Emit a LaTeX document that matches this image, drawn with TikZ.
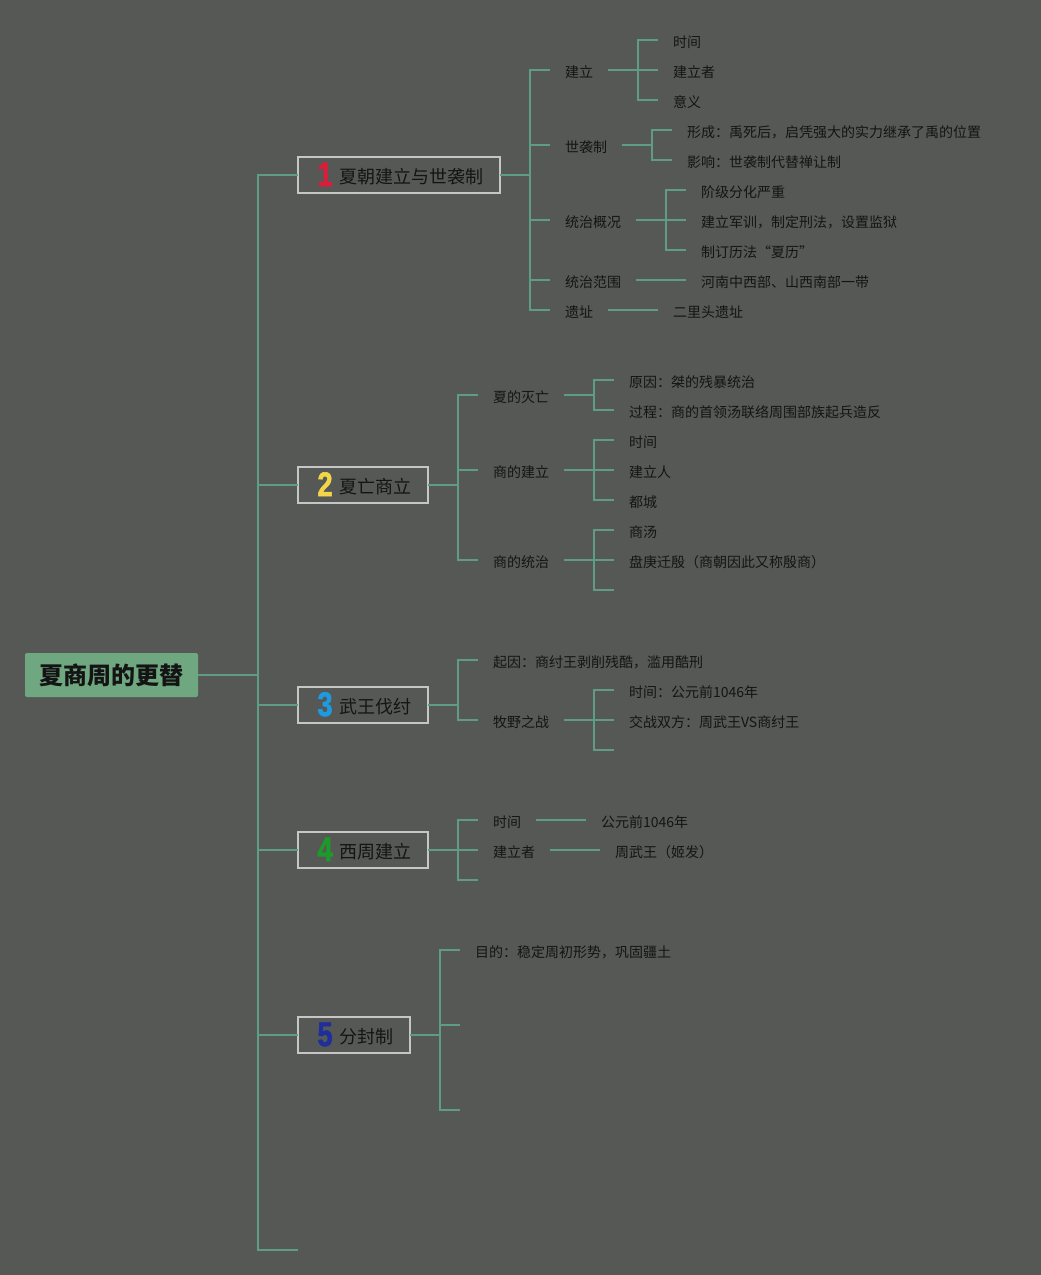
\documentclass[tikz,border=0pt]{standalone}
\usepackage{fontspec}
\setmainfont{Noto Sans CJK SC}
\newfontfamily\digitos{Liberation Sans}[BoldFeatures={FakeBold=2}]
\usepackage{tikz}
\usetikzlibrary{positioning, calc}

\definecolor{fundo}{HTML}{565855}
\definecolor{linha}{HTML}{5F9C87}
\definecolor{borda}{HTML}{C6C6C6}
\definecolor{raizcor}{HTML}{6FA780}
\definecolor{texto}{HTML}{141414}
\definecolor{n1}{HTML}{D81E3A}
\definecolor{n2}{HTML}{F2D54A}
\definecolor{n3}{HTML}{1E9BE0}
\definecolor{n4}{HTML}{1E9A2A}
\definecolor{n5}{HTML}{1E2E9A}

\newcommand{\numero}[2]{\makebox[24pt][l]{\hspace*{2.5pt}\raisebox{-3pt}{\color{#1}\digitos\bfseries\fontsize{34}{34}\selectfont\scalebox{0.8}[1]{#2}}}}

\begin{document}
\begin{tikzpicture}[x=1pt, y=-1pt, node distance=50pt,
  raiz/.style={fill=raizcor, rounded corners=2pt, minimum width=173pt, minimum height=44pt, font=\fontsize{24}{24}\selectfont\bfseries, text=texto},
  ramo/.style={draw=borda, line width=2pt, fill=fundo, minimum height=36pt, inner xsep=17pt, outer sep=0pt, anchor=west, text height=20pt, text depth=4pt, font=\fontsize{18}{18}\selectfont, text=texto},
  folha/.style={anchor=west, inner xsep=15pt, inner ysep=2pt, outer sep=0pt, text height=14.8pt, text depth=0pt, font=\fontsize{14}{14}\selectfont, text=texto},
  liga/.style={draw=linha, line width=1.5pt}]
\fill[fundo] (0,0) rectangle (1041,1275);
\useasboundingbox (0,0) rectangle (1041,1275);

\node[raiz] (root) at (111.5,675) {夏商周的更替};

\node[ramo] (b1) at (298,175) {\numero{n1}{1}夏朝建立与世袭制};
\node[ramo] (b2) at (298,485) {\numero{n2}{2}夏亡商立};
\node[ramo] (b3) at (298,705) {\numero{n3}{3}武王伐纣};
\node[ramo] (b4) at (298,850) {\numero{n4}{4}西周建立};
\node[ramo] (b5) at (298,1035) {\numero{n5}{5}分封制};
\coordinate (b6) at (298,1250);

%Ramo 1
\node[folha, right=of b1, yshift=105pt] (a1) {建立};
\node[folha, right=of b1, yshift=30pt] (a2) {世袭制};
\node[folha, right=of b1, yshift=-45pt] (a3) {统治概况};
\node[folha, right=of b1, yshift=-105pt] (a4) {统治范围};
\node[folha, right=of b1, yshift=-135pt] (a5) {遗址};
\node[folha, right=of a1, yshift=30pt] (a11) {时间};
\node[folha, right=of a1] (a12) {建立者};
\node[folha, right=of a1, yshift=-30pt] (a13) {意义};
\node[folha, right=of a2, yshift=15pt] (a21) {形成：禹死后，启凭强大的实力继承了禹的位置};
\node[folha, right=of a2, yshift=-15pt] (a22) {影响：世袭制代替禅让制};
\node[folha, right=of a3, yshift=30pt] (a31) {阶级分化严重};
\node[folha, right=of a3] (a32) {建立军训，制定刑法，设置监狱};
\node[folha, right=of a3, yshift=-30pt] (a33) {制订历法“夏历”};
\node[folha, right=of a4] (a41) {河南中西部、山西南部一带};
\node[folha, right=of a5] (a51) {二里头遗址};

%Ramo 2
\node[folha, right=of b2, yshift=90pt] (c1) {夏的灭亡};
\node[folha, right=of b2, yshift=15pt] (c2) {商的建立};
\node[folha, right=of b2, yshift=-75pt] (c3) {商的统治};
\node[folha, right=of c1, yshift=15pt] (c11) {原因：桀的残暴统治};
\node[folha, right=of c1, yshift=-15pt] (c12) {过程：商的首领汤联络周围部族起兵造反};
\node[folha, right=of c2, yshift=30pt] (c21) {时间};
\node[folha, right=of c2] (c22) {建立人};
\node[folha, right=of c2, yshift=-30pt] (c23) {都城};
\node[folha, right=of c3, yshift=30pt] (c31) {商汤};
\node[folha, right=of c3] (c32) {盘庚迁殷（商朝因此又称殷商）};
\coordinate[right=of c3, yshift=-30pt] (c33);

%Ramo 3
\node[folha, right=of b3, yshift=45pt] (d1) {起因：商纣王剥削残酷，滥用酷刑};
\node[folha, right=of b3, yshift=-15pt] (d2) {牧野之战};
\node[folha, right=of d2, yshift=30pt] (d21) {时间：公元前1046年};
\node[folha, right=of d2] (d22) {交战双方：周武王VS商纣王};
\coordinate[right=of d2, yshift=-30pt] (d23);

%Ramo 4
\node[folha, right=of b4, yshift=30pt] (e1) {时间};
\node[folha, right=of b4] (e2) {建立者};
\coordinate[right=of b4, yshift=-30pt] (e3);
\node[folha, right=of e1] (e11) {公元前1046年};
\node[folha, right=of e2] (e21) {周武王（姬发）};

%Ramo 5
\node[folha, right=of b5, yshift=85pt] (f1) {目的：稳定周初形势，巩固疆土};
\coordinate[right=of b5, yshift=10pt] (f2);
\coordinate[right=of b5, yshift=-75pt] (f3);

%Ligações:
\foreach \r in {b1,b2,b3,b4,b5,b6}
  \draw[liga] (root.east) -- ++(60,0) |- (\r.west);
\foreach \p/\f in {b1/a1,b1/a2,b1/a3,b1/a4,b1/a5,
                   a1/a11,a1/a12,a1/a13,a2/a21,a2/a22,a3/a31,a3/a32,a3/a33,a4/a41,a5/a51,
                   b2/c1,b2/c2,b2/c3,c1/c11,c1/c12,c2/c21,c2/c22,c2/c23,c3/c31,c3/c32,c3/c33,
                   b3/d1,b3/d2,d2/d21,d2/d22,d2/d23,
                   b4/e1,b4/e2,b4/e3,e1/e11,e2/e21,
                   b5/f1,b5/f2,b5/f3}
  \draw[liga] (\p.east) -- ++(30,0) |- (\f.west);
\end{tikzpicture}
\end{document}
